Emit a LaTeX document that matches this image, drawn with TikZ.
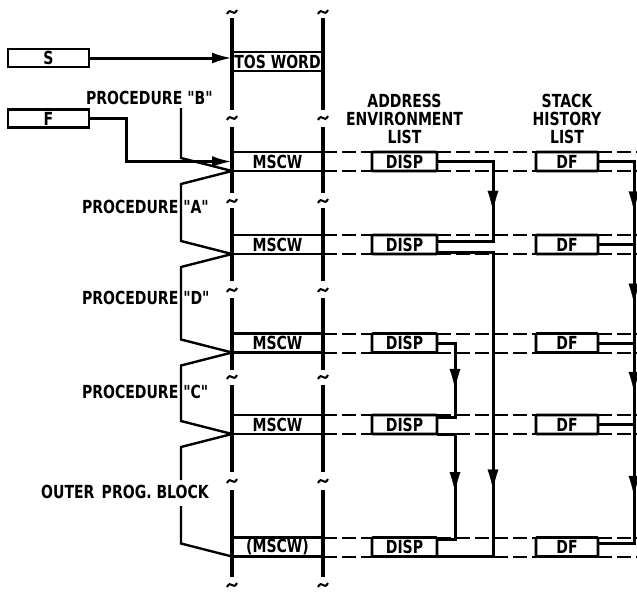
\documentclass[tikz,border=0pt]{standalone}
\usepackage{fontspec}
\setmainfont{DejaVu Sans}[FakeStretch=0.78, Ligatures=TeXOff]
\usetikzlibrary{arrows.meta,calc,decorations.markings}

\begin{document}
\begin{tikzpicture}[x=1pt, y=-1pt,
    every node/.style={font=\bfseries\fontsize{18}{18}\selectfont, inner sep=0pt, outer sep=0pt},
    word/.style={draw, line width=2.6pt, minimum width=91pt, minimum height=19pt},
    cell/.style={draw, line width=2.6pt, rounded corners=1pt, minimum height=19pt},
    reg/.style={draw, line width=2.6pt, minimum width=81pt, minimum height=18pt},
    rail/.style={line width=3.2pt},
    brk/.style={line width=2pt},
    trace/.style={line width=2pt, dash pattern=on 14pt off 5pt},
    link/.style={line width=3pt},
    brace/.style={line width=2.4pt},
    tip/.style={-{Latex[length=20pt,width=11pt]}},
    mid arrow/.style={postaction={decorate}, decoration={markings,
        mark=at position #1 with {\arrow{Latex[length=20pt,width=11pt]}}}},
    head/.style={align=center}]
    \useasboundingbox (0,0) rectangle (637,592);
    % stack column
    \foreach \a/\b in {18/110,127/193,208/281,298/370,385/472,490/577}
        \foreach \x in {232,323}
            \draw[rail] (\x,\a) -- (\x,\b);
    \foreach \y in {12,118,201,290,377,481,585}
        \foreach \x in {232,323}
            \draw[brk] (\x-5,\y+2) .. controls (\x-1,\y-6) and (\x+1,\y+6) .. (\x+5,\y-2);
    \node[word] (tos) at (277.5,61.5) {TOS WORD};
    \foreach \n/\y in {1/161.5,2/244.5,3/343,4/424.5}
        \node[word] (ms\n) at (277.5,\y) {MSCW};
    \node[word] (ms5) at (277.5,547) {(MSCW)};
    % lists
    \node[head] (ael) at (404.5,119) {ADDRESS\\ENVIRONMENT\\LIST};
    \node[head] (shl) at (567,119) {STACK\\HISTORY\\LIST};
    \foreach \n/\y in {1/161.5,2/244.5,3/343,4/424.5,5/547} {
        \node[cell, minimum width=65pt] (disp\n) at (404.5,\y) {DISP};
        \node[cell, minimum width=62pt] (df\n) at (567,\y) {DF};
    }
    \coordinate (edge) at (640,0);
    \foreach \n in {1,...,5} {
        \draw[trace] (ms\n.north east) -- (disp\n.north west)
            (disp\n.north east) -- (df\n.north west)
            (df\n.north east) -- (df\n.north east -| edge);
        \draw[trace] (ms\n.south east) -- (disp\n.south west)
            (disp\n.south east) -- (df\n.south west)
            (df\n.south east) -- (df\n.south east -| edge);
    }
    % address environment links
    \coordinate (ax) at (493,0);
    \coordinate (bx) at (455,0);
    \coordinate (in2) at ([yshift=-6pt]disp2.north east);
    \coordinate (out2) at ([yshift=2pt]disp2.south east);
    \coordinate (in4) at ([yshift=-2pt]disp4.north east);
    \coordinate (in5) at ([yshift=-2pt]disp5.north east);
    \draw[link] (disp1.east) -| (ax |- in2) -- (in2);
    \draw[link] (out2) -| (ax |- disp5.south east) -- (disp5.south east);
    \draw[link] (disp3.east) -| (bx |- in4) -- (in4);
    \draw[link] (disp4.south east) -| (bx |- in5) -- (in5);
    \path[mid arrow=.62] (disp1.east -| ax) -- (ax |- in2);
    \path[mid arrow=.78] (out2 -| ax) -- (ax |- disp5.south east);
    \path[mid arrow=.62] (disp3.east -| bx) -- (bx |- in4);
    \path[mid arrow=.55] (disp4.south east -| bx) -- (bx |- in5);
    % stack history links
    \coordinate (hx) at (634,0);
    \coordinate (hin5) at ([yshift=-6pt]df5.north east);
    \draw[link] (df1.east) -| (hx |- hin5) -- (hin5);
    \foreach \n in {2,3,4}
        \draw[link] (df\n.east) -- (df\n.east -| hx);
    \foreach \a/\b in {1/2,2/3,3/4}
        \path[mid arrow=.6] (df\a.east -| hx) -- (df\b.east -| hx);
    \path[mid arrow=.6] (df4.east -| hx) -- (hx |- hin5);
    % registers
    \node[reg] (s) at (48.5,58) {S};
    \node[reg] (f) at (48.5,118.5) {F};
    \draw[link, tip] (s.east) -- (s.east -| tos.west);
    \draw[link, tip] (f.east) -- ++(37,0) |- (ms1.west);
    % procedures
    \node[anchor=west] (lb) at (86,98) {PROCEDURE "B"};
    \node[anchor=west] (la) at (82,207) {PROCEDURE "A"};
    \node[anchor=west] (ld) at (82,298) {PROCEDURE "D"};
    \node[anchor=west] (lc) at (82,392) {PROCEDURE "C"};
    \node (lo) at (125,492) {OUTER\hspace{.4em}PROG. BLOCK};
    \draw[brace] (181,108) -- ($(ms1.south west)+(-51,-13)$) -- (ms1.south west);
    \foreach \a/\b in {1/2,2/3,3/4}
        \draw[brace] (ms\a.south west) -- ++(-51,13) -- ($(ms\b.south west)+(-51,-13)$) -- (ms\b.south west);
    \draw[brace] (ms4.south west) -- ++(-51,13) -- (181,480);
    \draw[brace] (181,506) -- ($(ms5.south west)+(-51,-13)$) -- (ms5.south west);
\end{tikzpicture}
\end{document}
